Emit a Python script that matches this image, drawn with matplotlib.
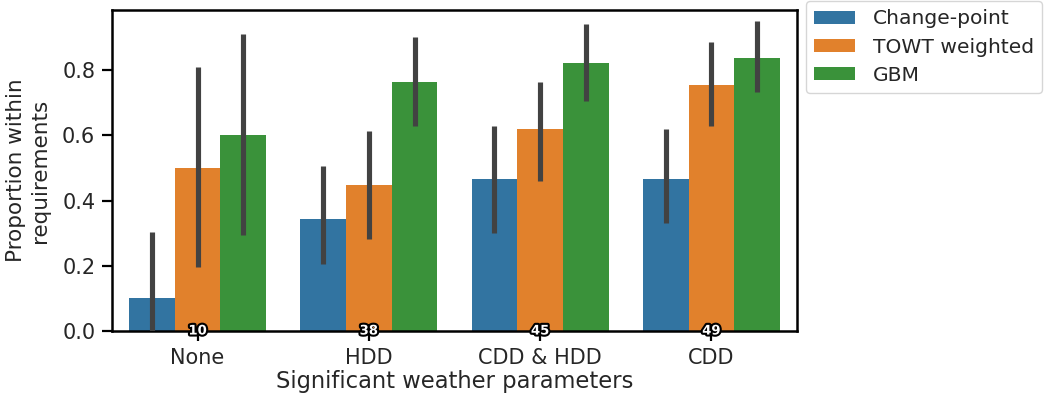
import numpy as np
import matplotlib.pyplot as plt
import matplotlib.patheffects as pe

# data
categories = ["None", "HDD", "CDD & HDD", "CDD"]
counts = [10, 38, 45, 49]
models = ["Change-point", "TOWT weighted", "GBM"]
colors = ["#3274a1", "#e1812c", "#3a923a"]

means = {
    "Change-point":  [0.10, 0.342, 0.467, 0.467],
    "TOWT weighted": [0.50, 0.447, 0.620, 0.755],
    "GBM":           [0.60, 0.763, 0.822, 0.837],
}
ci_low = {
    "Change-point":  [0.00, 0.205, 0.30, 0.331],
    "TOWT weighted": [0.195, 0.282, 0.46, 0.628],
    "GBM":           [0.294, 0.628, 0.705, 0.733],
}
ci_high = {
    "Change-point":  [0.303, 0.506, 0.628, 0.619],
    "TOWT weighted": [0.809, 0.613, 0.763, 0.886],
    "GBM":           [0.910, 0.901, 0.941, 0.950],
}

plt.rcParams["font.family"] = "DejaVu Sans"
plt.rcParams["text.color"] = "#262626"
plt.rcParams["axes.labelcolor"] = "#262626"
plt.rcParams["xtick.labelcolor"] = "#262626"
plt.rcParams["ytick.labelcolor"] = "#262626"

fig = plt.figure(figsize=(10.45, 3.98), dpi=100)
ax = fig.add_axes([112 / 1045, 1 - 331 / 398, 685 / 1045, 321 / 398])

x = np.arange(len(categories))
w = 0.8 / len(models)
for k, m in enumerate(models):
    xs = x - 0.4 + w * (k + 0.5)
    ax.bar(xs, means[m], width=w, color=colors[k], label=m)
    for xi, lo, hi in zip(xs, ci_low[m], ci_high[m]):
        ax.plot([xi, xi], [lo, hi], color="#424242", lw=3.7, solid_capstyle="butt", zorder=3)

for xi, n in zip(x, counts):
    ax.text(xi, 0, str(n), ha="center", va="center", fontsize=9.5, fontweight="bold",
            color="white", zorder=5,
            path_effects=[pe.withStroke(linewidth=3, foreground="black")])

ax.set_xlim(-0.5, 3.5)
ax.set_ylim(0, 0.984)
ax.set_xticks(x)
ax.set_xticklabels(categories)
ax.set_yticks([0, 0.2, 0.4, 0.6, 0.8])
ax.tick_params(labelsize=15, length=7, width=1.6, pad=5)
for s in ax.spines.values():
    s.set_linewidth(1.8)
ax.set_xlabel("Significant weather parameters", fontsize=16.3, labelpad=2)
ax.set_ylabel("Proportion within\nrequirements", fontsize=15.5, labelpad=9)

ax.legend(loc="upper left", bbox_to_anchor=(1.013, 1.027), fontsize=14.6, frameon=True,
          handlelength=2.0, handleheight=0.6, borderaxespad=0, borderpad=0.4,
          labelspacing=0.45, handletextpad=0.9)

fig.savefig("out.png", dpi=100)
